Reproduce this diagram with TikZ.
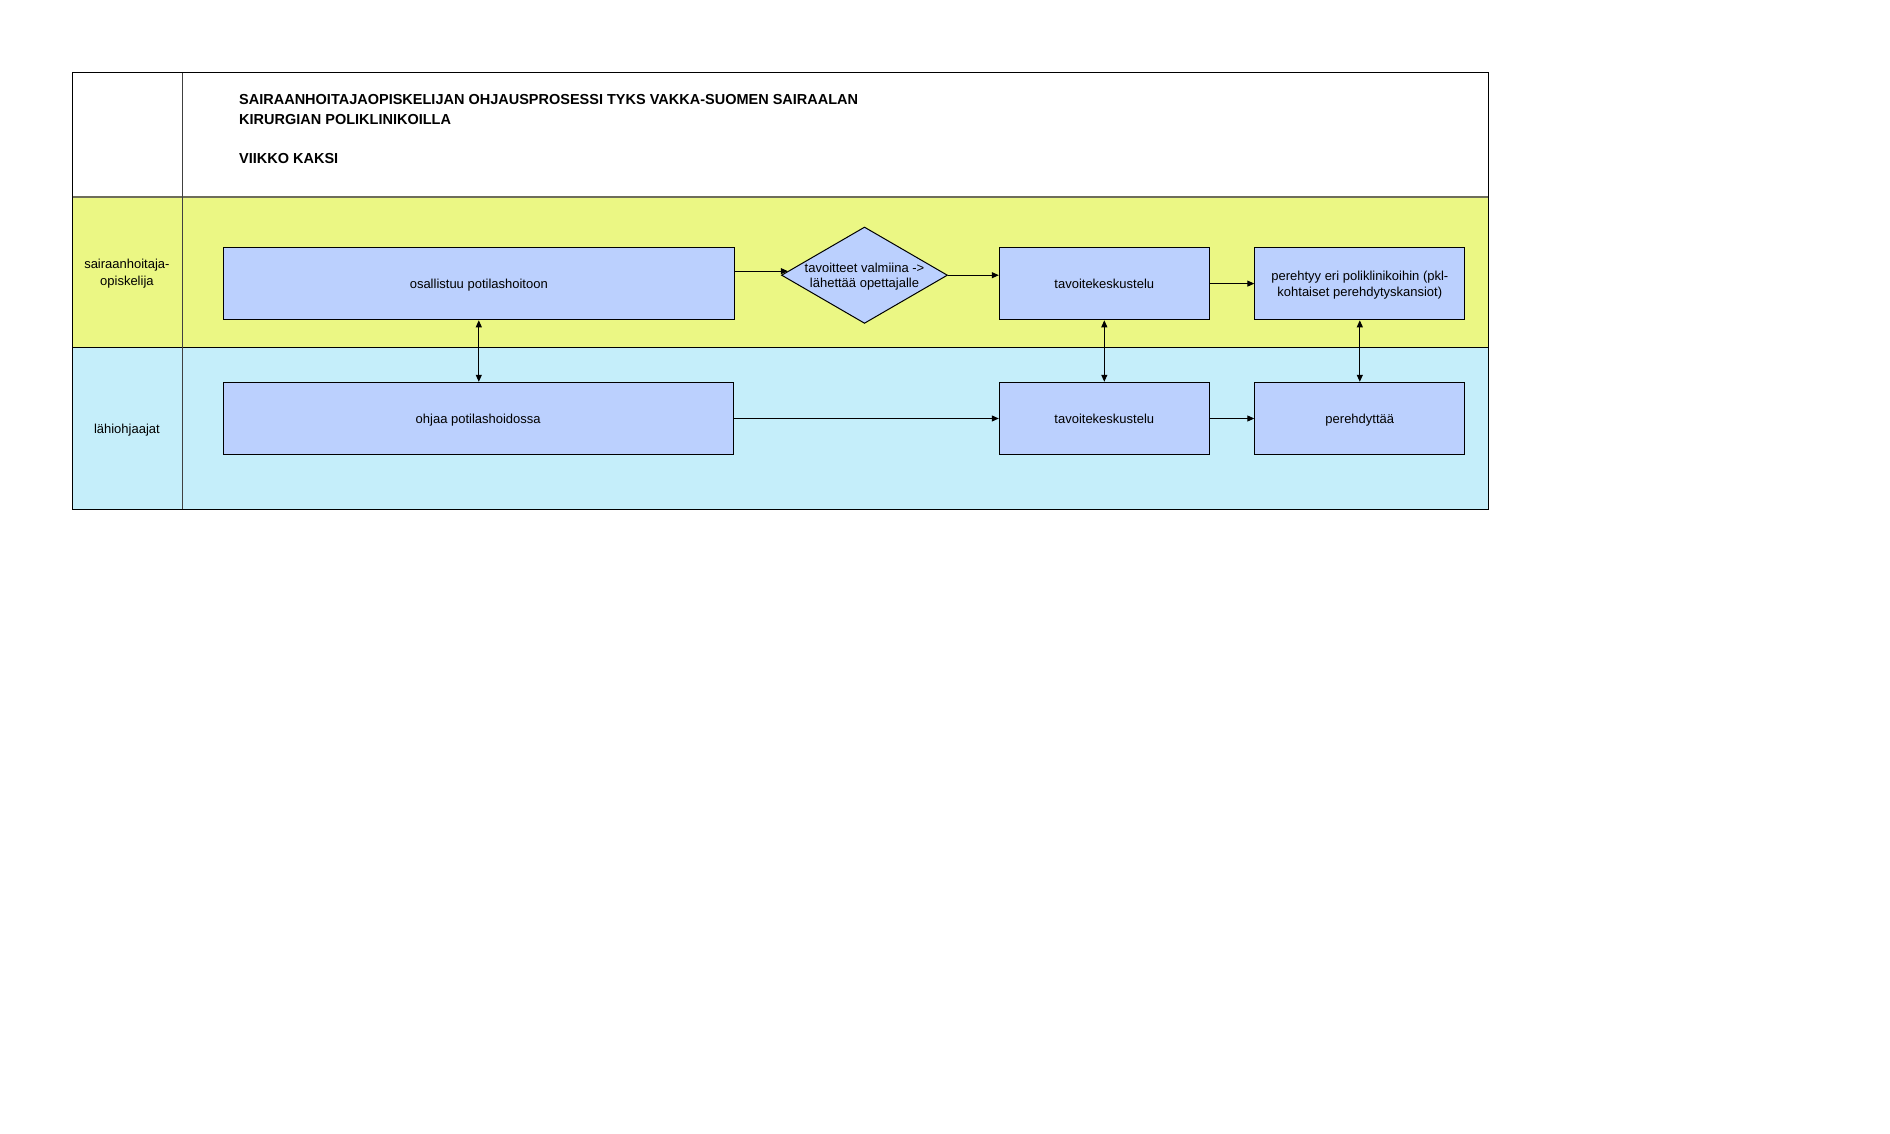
\documentclass[tikz,border=0pt]{standalone}
\usepackage{fontspec}
\setmainfont{Liberation Sans}
\usepackage{tikz}
\usetikzlibrary{shapes.geometric,arrows.meta,positioning}
\definecolor{laneyellow}{RGB}{235,247,132}
\definecolor{laneblue}{RGB}{197,238,250}
\definecolor{taskblue}{RGB}{187,208,254}
\definecolor{titleline}{RGB}{110,110,90}
\tikzset{task/.style={draw=black,fill=taskblue,line width=1pt,inner sep=0pt,align=center,text depth=0pt,
    minimum height=72.4pt,font=\fontsize{13}{15.7}\selectfont}}
\tikzset{decision/.style={diamond,draw=black,fill=taskblue,line width=1pt,inner sep=-8pt,aspect=1.6,text depth=0pt,
    align=center,minimum width=166pt,minimum height=96.4pt,font=\fontsize{13}{15.7}\selectfont}}
\tikzset{flow/.style={-{Triangle[length=7pt,width=6pt]},line width=1pt}}
\tikzset{twoflow/.style={{Triangle[length=7pt,width=6pt]}-{Triangle[length=7pt,width=6pt]},line width=1pt}}
\tikzset{lanelabel/.style={align=center,text depth=0pt,font=\fontsize{13}{16.5}\selectfont}}

\begin{document}
\begin{tikzpicture}[x=1pt,y=-1pt]
\useasboundingbox (0,0) rectangle (1890,1134);

% lanes
\fill[laneyellow] (72.7,196.8) rectangle (1488.7,347.5);
\fill[laneblue] (72.7,347.5) rectangle (1488.7,509);
\draw[titleline,line width=2pt] (72.7,196.8) -- (1488.7,196.8);
\draw[black,line width=1pt] (72.7,347.5) -- (1488.7,347.5);
\draw[black!75,line width=1pt] (182.4,72.7) -- (182.4,509);
\draw[black,line width=1pt] (72.7,72.7) rectangle (1488.7,509);

\node[anchor=base west,align=left,inner sep=0pt,font=\bfseries\fontsize{14.5}{19.5}\selectfont] (title) at (239,163.5)
  {SAIRAANHOITAJAOPISKELIJAN OHJAUSPROSESSI TYKS VAKKA-SUOMEN SAIRAALAN\\KIRURGIAN POLIKLINIKOILLA\\ \\VIIKKO KAKSI};

\node[lanelabel] (opiskelija) at (126.9,272.5) {sairaanhoitaja-\\opiskelija};
\node[lanelabel] (ohjaajat) at (126.9,428.7) {lähiohjaajat};

% tasks
\node[task,minimum width=511pt] (osal) at (478.8,283.6) {osallistuu potilashoitoon};
\node[decision] (dia) at (864.5,275.2) {tavoitteet valmiina ->\\lähettää opettajalle};
\node[task,minimum width=210pt] (tav1) at (1104.3,283.6) {tavoitekeskustelu};
\node[task,minimum width=210pt] (per1) at (1359.8,283.6) {perehtyy eri poliklinikoihin (pkl-\\kohtaiset perehdytyskansiot)};

\node[task,minimum width=510pt] (ohjaa) at (478.2,418.5) {ohjaa potilashoidossa};
\node[task,minimum width=210pt] (tav2) at (1104.3,418.5) {tavoitekeskustelu};
\node[task,minimum width=210pt] (per2) at (1359.8,418.5) {perehdyttää};

% connectors
\draw[flow] (osal.east |- dia.177) -- (dia.177);
\draw[flow] (dia.east) -- (dia.east -| tav1.west);
\draw[flow] (tav1) -- (per1);
\draw[flow] (ohjaa) -- (tav2);
\draw[flow] (tav2) -- (per2);

\draw[twoflow] (osal.south) -- (osal.south |- ohjaa.north);
\draw[twoflow] (tav1) -- (tav2);
\draw[twoflow] (per1) -- (per2);

\end{tikzpicture}
\end{document}
